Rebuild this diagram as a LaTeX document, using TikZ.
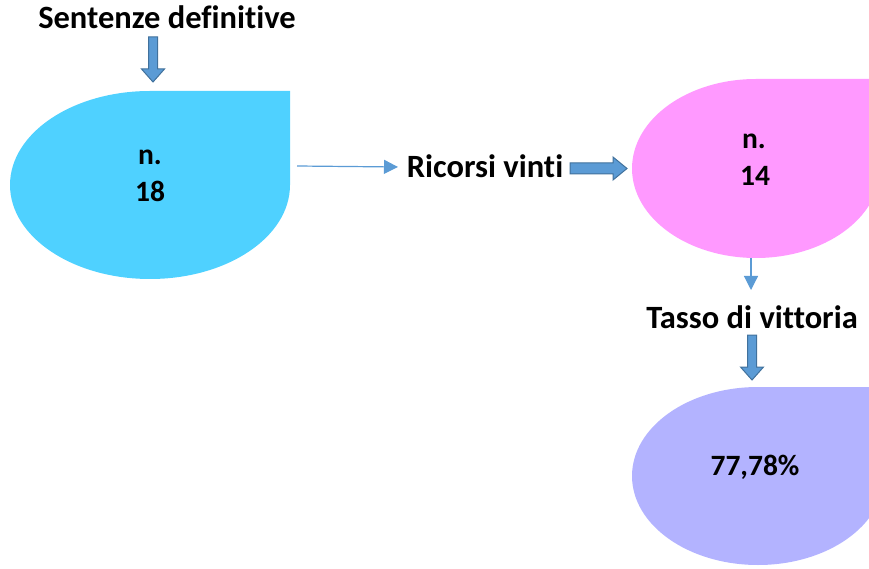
\documentclass[tikz,border=0pt]{standalone}
\usepackage{fontspec}
\setmainfont[Ligatures=NoCommon]{Carlito}
\usetikzlibrary{calc,arrows.meta}
\definecolor{bluefill}{HTML}{4FD1FF}
\definecolor{pinkfill}{HTML}{FF99FF}
\definecolor{lilacfill}{HTML}{B3B3FF}
\definecolor{arrfill}{HTML}{5B9BD5}
\definecolor{arrline}{HTML}{41719C}
\tikzset{
  lbl/.style={anchor=base,inner sep=0pt,font=\fontsize{32.5}{38}\selectfont\bfseries},
  inlbl/.style={anchor=base,inner sep=0pt,font=\fontsize{29.5}{35}\selectfont\bfseries},
  blockarrow/.style={fill=arrfill,draw=arrline,line width=1pt,line join=miter},
  thinarrow/.style={draw=arrfill,line width=1.2pt,-{Triangle[length=14pt,width=14pt]}},
}
\newcommand{\blkdown}[2]{%
  \path[blockarrow] ($(#1)+(-4.5,0)$) -- ($(#2)+(-4.5,13)$) -- ($(#2)+(-11.5,13)$) -- (#2)
    -- ($(#2)+(11.5,13)$) -- ($(#2)+(4.5,13)$) -- ($(#1)+(4.5,0)$) -- cycle;}
\newcommand{\blkright}[2]{%
  \path[blockarrow] ($(#1)+(0,5.5)$) -- ($(#2)+(-14,5.5)$) -- ($(#2)+(-14,11.5)$) -- (#2)
    -- ($(#2)+(-14,-11.5)$) -- ($(#2)+(-14,-5.5)$) -- ($(#1)+(0,-5.5)$) -- cycle;}
\begin{document}
\begin{tikzpicture}[x=1pt,y=1pt]
\useasboundingbox (0,0) rectangle (869,568);
\clip (0,0) rectangle (869,568);
% teardrop shapes
\fill[bluefill] (150,477) -- (290,477) -- (290,383)
  arc[start angle=0,end angle=-270,x radius=140pt,y radius=94pt] -- cycle;
\fill[pinkfill] (756,489) -- (880,489) -- (880,399.5)
  arc[start angle=0,end angle=-270,x radius=124pt,y radius=89.5pt] -- cycle;
\fill[lilacfill] (758,181) -- (884,181) -- (884,92)
  arc[start angle=0,end angle=-270,x radius=126pt,y radius=89pt] -- cycle;
% texts
\node[lbl] (sent) at (167,539) {Sentenze definitive};
\node[inlbl] (n1) at (150,403) {n.};
\node[inlbl] (v18) at (150,366) {18};
\node[lbl] (ric) at (485,390) {Ricorsi vinti};
\node[inlbl] (n2) at (754,419) {n.};
\node[inlbl] (v14) at (755,382) {14};
\node[lbl] (tasso) at (752,240) {Tasso di vittoria};
\node[inlbl] (pct) at (755,93) {77,78\%};
% connector anchors
\coordinate (a1s) at (153,531);
\coordinate (a1e) at (153,486);
\coordinate (t1s) at (297,402);
\coordinate (t1e) at (398,401);
\coordinate (a2s) at (570,399.5);
\coordinate (a2e) at (627,399.5);
\coordinate (t2s) at (751,310);
\coordinate (t2e) at (751,278);
\coordinate (a3s) at (752,233);
\coordinate (a3e) at (752,188);
% connectors
\blkdown{a1s}{a1e}
\draw[thinarrow] (t1s) -- (t1e);
\blkright{a2s}{a2e}
\draw[thinarrow] (t2s) -- (t2e);
\blkdown{a3s}{a3e}
\end{tikzpicture}
\end{document}
